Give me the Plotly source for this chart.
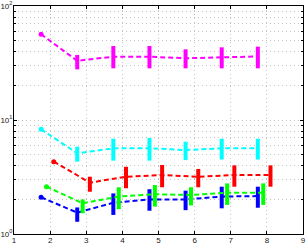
import plotly.graph_objects as go

# ---- data ----
x_left = [1.75, 2.75, 3.75, 4.75, 5.75, 6.75, 7.75]   # blue, cyan, magenta
x_green = [1.9, 2.9, 3.9, 4.9, 5.9, 6.9, 7.9]
x_red = [2.1, 3.1, 4.1, 5.1, 6.1, 7.1, 8.1]

blue_y = [2.10, 1.54, 1.88, 2.01, 2.01, 2.13, 2.15]
blue_hi = [1.71, 2.27, 2.47, 2.40, 2.60, 2.60]
blue_lo = [1.28, 1.47, 1.60, 1.62, 1.68, 1.70]

green_y = [2.60, 1.86, 2.13, 2.23, 2.20, 2.30, 2.30]
green_hi = [2.01, 2.57, 2.69, 2.57, 2.78, 2.78]
green_lo = [1.52, 1.65, 1.74, 1.78, 1.80, 1.80]

red_y = [4.31, 2.82, 3.18, 3.29, 3.18, 3.29, 3.29]
red_hi = [3.18, 3.89, 4.03, 3.72, 4.00, 4.00]
red_lo = [2.35, 2.52, 2.57, 2.57, 2.60, 2.60]

cyan_y = [8.29, 5.10, 5.65, 5.65, 5.45, 5.65, 5.65]
cyan_hi = [5.83, 6.85, 6.95, 6.45, 6.85, 6.85]
cyan_lo = [4.31, 4.40, 4.40, 4.45, 4.50, 4.50]

magenta_y = [56.5, 33.1, 35.9, 35.9, 34.8, 35.6, 36.1]
magenta_hi = [37.2, 44.6, 44.6, 41.7, 43.4, 44.0]
magenta_lo = [27.8, 28.4, 28.4, 28.4, 28.4, 28.4]

x_ticks = [1, 2, 3, 4, 5, 6, 7, 8, 9]
y_ticks = [1, 10, 100]
y_ticktext = ["10<sup>0</sup>", "10<sup>1</sup>", "10<sup>2</sup>"]
y_minor = [m * d for d in (1, 10) for m in range(2, 10)]

series = [
    ("#0000ff", x_left, blue_y, blue_hi, blue_lo),
    ("#00ff00", x_green, green_y, green_hi, green_lo),
    ("#ff0000", x_red, red_y, red_hi, red_lo),
    ("#00ffff", x_left, cyan_y, cyan_hi, cyan_lo),
    ("#ff00ff", x_left, magenta_y, magenta_hi, magenta_lo),
]

fig = go.Figure()
for color, xs, ys, hi, lo in series:
    fig.add_trace(go.Scatter(x=xs, y=ys, mode="lines",
                             line=dict(color=color, width=2, dash="5px,3px"),
                             showlegend=False, hoverinfo="skip"))
    fig.add_trace(go.Scatter(x=xs[:1], y=ys[:1], mode="markers",
                             marker=dict(color=color, size=5),
                             showlegend=False, hoverinfo="skip"))
    plus = [h - y for h, y in zip(hi, ys[1:])]
    minus = [y - l for l, y in zip(lo, ys[1:])]
    fig.add_trace(go.Scatter(x=xs[1:], y=ys[1:], mode="markers",
                             marker=dict(color=color, size=1, opacity=0),
                             error_y=dict(type="data", symmetric=False,
                                          array=plus, arrayminus=minus,
                                          color=color, thickness=4, width=0),
                             showlegend=False, hoverinfo="skip"))

grid_col = "#c4c4c4"
grid_dash = "1px,3px"
fig.update_layout(
    width=307, height=244,
    margin=dict(l=14, r=4, t=6, b=10, autoexpand=False),
    paper_bgcolor="white", plot_bgcolor="white",
    font=dict(family="Liberation Sans, Arial, sans-serif", size=8, color="#222222"),
    xaxis=dict(range=[1, 9], tickmode="array", tickvals=x_ticks,
               showline=True, linecolor="black", linewidth=1, mirror="ticks",
               ticks="inside", ticklen=3, tickcolor="black",
               showgrid=True, gridcolor=grid_col, griddash=grid_dash, gridwidth=1,
               zeroline=False, tickfont=dict(size=8), automargin=False,
               ticklabeloverflow="allow", ticklabelstandoff=-2),
    yaxis=dict(type="log", range=[0, 2], tickmode="array", tickvals=y_ticks,
               ticktext=y_ticktext,
               showline=True, linecolor="black", linewidth=1, mirror="ticks",
               ticks="inside", ticklen=3, tickcolor="black",
               showgrid=True, gridcolor=grid_col, griddash=grid_dash, gridwidth=1,
               minor=dict(tickmode="array", tickvals=y_minor, showgrid=True,
                          gridcolor=grid_col, griddash=grid_dash, ticks="inside",
                          ticklen=2, tickcolor="black"),
               zeroline=False, tickfont=dict(size=8), automargin=False,
               ticklabeloverflow="allow", ticklabelstandoff=-1),
)

fig.write_html("out.html", config={"displayModeBar": False},
               post_script="document.body.style.margin='0';document.body.style.overflow='hidden';")
